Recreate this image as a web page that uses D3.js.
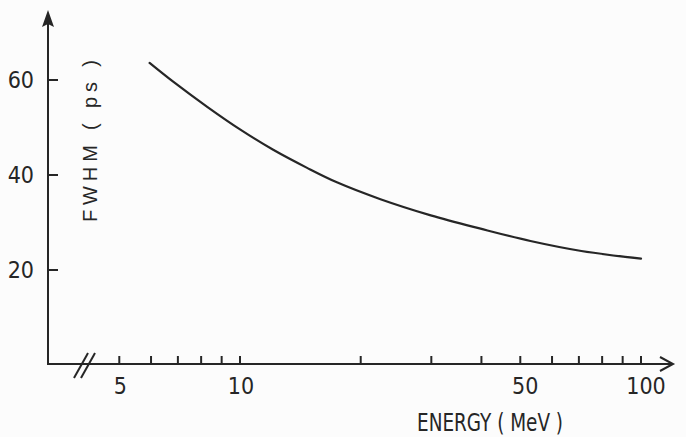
<!DOCTYPE html>
<html>
<head>
<meta charset="utf-8">
<script src="https://cdn.jsdelivr.net/npm/d3@7"></script>
<style>
  html, body { margin: 0; padding: 0; background: #fcfcfc; }
  svg { display: block; }
  text { fill: #262626; }
</style>
</head>
<body>
<script>
// ---- data ----
const energyMeV = [5.95, 6.8, 8.3, 10, 12.1, 14.7, 17.5, 22.4, 29.9, 39.8, 53, 71, 100];
const fwhmPs    = [63.6, 59.7, 54.3, 49.6, 45.3, 41.5, 38.4, 34.9, 31.5, 28.7, 26.1, 24.0, 22.4];
const xTicks = [5, 6, 7, 8, 9, 10, 20, 30, 40, 50, 60, 70, 80, 90, 100];
const xTickLabels = [5, 10, 50, 100];
const yTicks = [20, 40, 60];
const xTitle = "ENERGY ( MeV )";
const yTitle = "FWHM ( ps )";

const W = 686, H = 437;
const ink = "#262626";
const svg = d3.select("body").append("svg").attr("width", W).attr("height", H);

// scales
const x = d3.scaleLog().domain([10, 100]).range([240, 641]);
const y = d3.scaleLinear().domain([0, 60]).range([365, 80]);

const originX = 48;           // y-axis position
const axisY = 364;            // x-axis position
const xEnd = 673, yTop = 10;

const narrow = "'Liberation Sans Narrow', 'DejaVu Sans Condensed', 'Liberation Sans', sans-serif";

// x axis line with arrow
svg.append("line").attr("x1", originX).attr("y1", axisY).attr("x2", xEnd - 2).attr("y2", axisY)
  .attr("stroke", ink).attr("stroke-width", 2);
svg.append("path")
  .attr("d", `M${xEnd - 13},${axisY - 7} L${xEnd},${axisY} L${xEnd - 13},${axisY + 7}`)
  .attr("fill", "none").attr("stroke", ink).attr("stroke-width", 2).attr("stroke-linejoin", "miter");

// y axis line with arrow
svg.append("line").attr("x1", originX).attr("y1", axisY + 1).attr("x2", originX).attr("y2", yTop + 10)
  .attr("stroke", ink).attr("stroke-width", 2);
svg.append("path")
  .attr("d", `M${originX},${yTop} L${originX + 6},${yTop + 17} L${originX},${yTop + 14} L${originX - 6},${yTop + 17} Z`)
  .attr("fill", ink);

// x ticks (upward)
svg.append("g").selectAll("line").data(xTicks).join("line")
  .attr("x1", d => x(d)).attr("x2", d => x(d))
  .attr("y1", axisY).attr("y2", axisY - 8)
  .attr("stroke", ink).attr("stroke-width", 2);

svg.append("g").selectAll("text").data(xTickLabels).join("text")
  .attr("x", d => x(d) + (d >= 50 ? 5 : 1)).attr("y", 394)
  .attr("text-anchor", "middle")
  .style("font-family", narrow).style("font-size", "23px")
  .text(d => d);

// y ticks (to the right)
svg.append("g").selectAll("line").data(yTicks).join("line")
  .attr("x1", originX).attr("x2", originX + 10)
  .attr("y1", d => y(d)).attr("y2", d => y(d))
  .attr("stroke", ink).attr("stroke-width", 2);

svg.append("g").selectAll("text").data(yTicks).join("text")
  .attr("x", 34).attr("y", d => y(d) + 8)
  .attr("text-anchor", "end")
  .style("font-family", narrow).style("font-size", "23px")
  .text(d => d);

// axis break marks
[0, 7].forEach(off => {
  svg.append("line")
    .attr("x1", originX + 26 + off).attr("y1", axisY + 14)
    .attr("x2", originX + 40 + off).attr("y2", axisY - 11)
    .attr("stroke", ink).attr("stroke-width", 2);
});

// axis titles
svg.append("text")
  .attr("x", 490).attr("y", 431)
  .attr("text-anchor", "middle")
  .attr("textLength", 146).attr("lengthAdjust", "spacingAndGlyphs")
  .style("font-family", narrow).style("font-size", "25px")
  .text(xTitle);

svg.append("text")
  .attr("transform", "translate(97,141) rotate(-90)")
  .attr("text-anchor", "middle")
  .attr("textLength", 162).attr("lengthAdjust", "spacing")
  .style("font-family", "'Liberation Sans', Arial, sans-serif").style("font-size", "20px")
  .text(yTitle);

// curve
const pts = energyMeV.map((e, i) => [e, fwhmPs[i]]);
svg.append("path")
  .datum(pts)
  .attr("d", d3.line().x(d => x(d[0])).y(d => y(d[1])).curve(d3.curveCatmullRom.alpha(0.5)))
  .attr("fill", "none").attr("stroke", ink).attr("stroke-width", 2.2)
  .attr("stroke-linecap", "round");
</script>
</body>
</html>
